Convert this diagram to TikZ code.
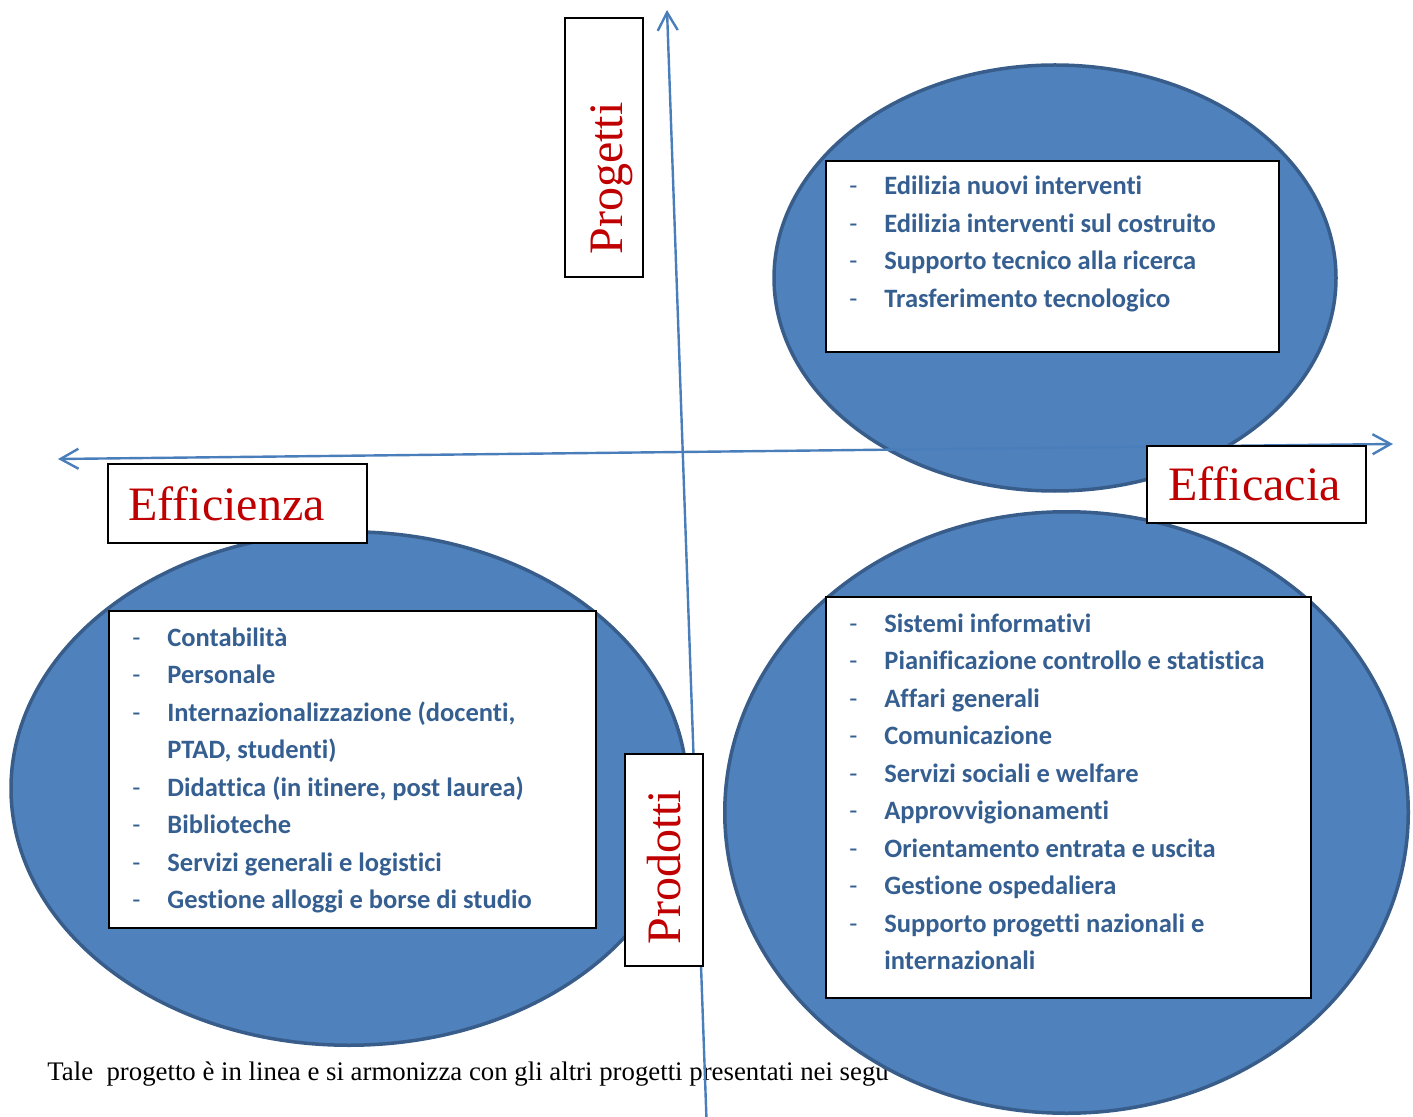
\documentclass[tikz,border=0pt]{standalone}
\usepackage{fontspec}
\setmainfont{Liberation Serif}
\newfontfamily\listfont{Carlito}[Ligatures={NoCommon,NoContextual}]
\usetikzlibrary{arrows.meta,shapes.geometric}
\definecolor{blobfill}{HTML}{4F81BD}
\definecolor{blobline}{HTML}{385D8A}
\definecolor{axiscol}{HTML}{4A7EBB}
\definecolor{titlered}{HTML}{C00000}
\definecolor{listblue}{HTML}{365F91}
\tikzset{
  blob/.style={ellipse, fill=blobfill, draw=blobline, line width=1.75pt, inner sep=0pt},
  axisline/.style={draw=axiscol, line width=1.2pt},
  frame/.style={draw=black, fill=white, line width=1pt, inner sep=0pt},
  title/.style={text=titlered, font=\fontsize{24}{28}\selectfont, inner sep=0pt},
  li/.style={text=listblue, font=\listfont\bfseries\fontsize{13.25}{18.75}\selectfont, inner sep=0pt, anchor=base west},
  note/.style={text=black, font=\fontsize{13.4}{15}\selectfont, inner sep=0pt, anchor=base west}
}
\newcommand\dsh{\makebox[17.5pt][l]{\mdseries -}}
\begin{document}
\begin{tikzpicture}[x=0.5pt,y=-0.5pt]
\useasboundingbox (0,0) rectangle (1413,1117);
% text under the lower right ellipse
\node[note] (note) at (47,1080) {Tale\ \ progetto è in linea e si armonizza con gli altri progetti presentati nei segu};
% ellipses
\node[blob, minimum width=281pt, minimum height=213pt] (etr) at (1055,278) {};
\node[blob, minimum width=338pt, minimum height=256.75pt] (ell) at (349,788.5) {};
\node[blob, minimum width=341.75pt, minimum height=300.75pt] (elr) at (1066.5,812.5) {};
% axes
\coordinate (hl) at (58,459);
\coordinate (hr) at (1393,444);
\coordinate (vt) at (667,10);
\coordinate (vb) at (706.5,1120);
\draw[axisline, {Straight Barb[length=9pt,width=10pt]}-{Straight Barb[length=9pt,width=10pt]}] (hl) -- (hr);
\draw[axisline, -{Straight Barb[length=9pt,width=10pt]}] (vb) -- (vt);
% title boxes
\node[frame, minimum width=39pt, minimum height=129.5pt] (pbox) at (604,147.5) {};
\node[title, rotate=90, anchor=base west] (ptext) at (622,255) {Progetti};
\node[frame, minimum width=129.5pt, minimum height=39.5pt] (ebox) at (237.5,503.5) {};
\node[title, anchor=base west] (etext) at (128,520) {Efficienza};
\node[frame, minimum width=109.5pt, minimum height=38.5pt] (cbox) at (1256.5,484.5) {};
\node[title, anchor=base west] (ctext) at (1168,500) {Efficacia};
\node[frame, minimum width=39pt, minimum height=106pt] (dbox) at (664,860) {};
\node[title, rotate=90, anchor=base west] (dtext) at (680,945) {Prodotti};
% list boxes
\node[frame, minimum width=226.5pt, minimum height=95.5pt] (trbox) at (1052.5,256.5) {};
\node[frame, minimum width=243.5pt, minimum height=158.5pt] (llbox) at (352.5,769.5) {};
\node[frame, minimum width=242.5pt, minimum height=200.5pt] (lrbox) at (1068.5,797.5) {};
% top right list
\node[li] (tr1) at (849,195) {\dsh Edilizia nuovi interventi};
\node[li] (tr2) at (849,232.5) {\dsh Edilizia interventi sul costruito};
\node[li] (tr3) at (849,270) {\dsh Supporto tecnico alla ricerca};
\node[li] (tr4) at (849,307.5) {\dsh Trasferimento tecnologico};
% lower left list
\node[li] (ll1) at (132,646) {\dsh Contabilità};
\node[li] (ll2) at (132,683.5) {\dsh Personale};
\node[li] (ll3) at (132,721) {\dsh Internazionalizzazione (docenti,};
\node[li] (ll4) at (132,758.5) {\hspace*{17.5pt}PTAD, studenti)};
\node[li] (ll5) at (132,796) {\dsh Didattica (in itinere, post laurea)};
\node[li] (ll6) at (132,833.5) {\dsh Biblioteche};
\node[li] (ll7) at (132,871) {\dsh Servizi generali e logistici};
\node[li] (ll8) at (132,908.5) {\dsh Gestione alloggi e borse di studio};
% lower right list
\node[li] (lr1) at (849,632) {\dsh Sistemi informativi};
\node[li] (lr2) at (849,669.5) {\dsh Pianificazione controllo e statistica};
\node[li] (lr3) at (849,707) {\dsh Affari generali};
\node[li] (lr4) at (849,744.5) {\dsh Comunicazione};
\node[li] (lr5) at (849,782) {\dsh Servizi sociali e welfare};
\node[li] (lr6) at (849,819.5) {\dsh Approvvigionamenti};
\node[li] (lr7) at (849,857) {\dsh Orientamento entrata e uscita};
\node[li] (lr8) at (849,894.5) {\dsh Gestione ospedaliera};
\node[li] (lr9) at (849,932) {\dsh Supporto progetti nazionali e};
\node[li] (lr10) at (849,969.5) {\hspace*{17.5pt}internazionali};
\end{tikzpicture}
\end{document}
